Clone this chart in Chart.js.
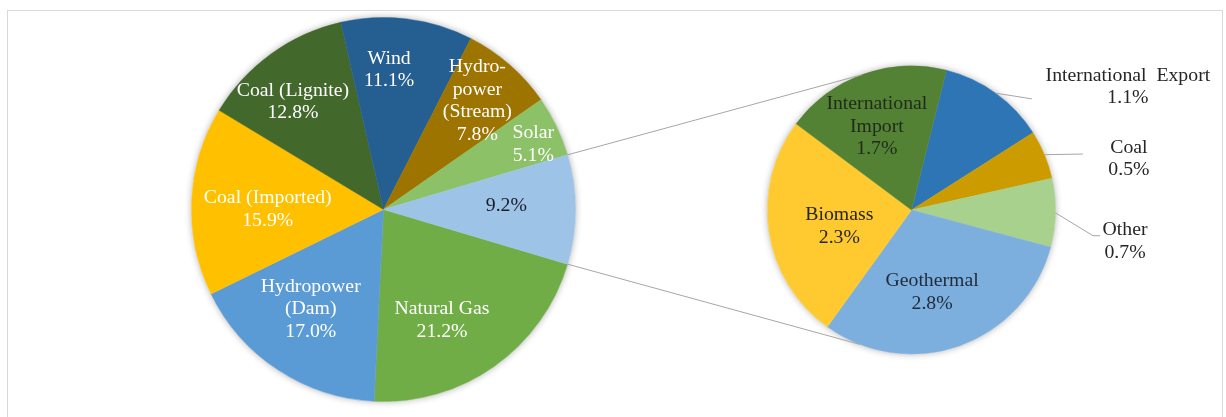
<!DOCTYPE html>
<html><head><meta charset="utf-8">
<script src="https://cdn.jsdelivr.net/npm/chart.js@4.4.1/dist/chart.umd.min.js"></script>
<style>
html,body{margin:0;padding:0;background:#fff;}
#wrap{position:relative;width:1226px;height:417px;overflow:hidden;background:#fff;}
#frame{position:absolute;left:7px;top:10px;width:1214px;height:500px;border:1px solid #d9d9d9;border-bottom:none;}
#wrap canvas{position:absolute;left:0;top:0;}
</style></head><body>
<div id="wrap"><div id="frame"></div>
<canvas id="mainPie" width="1226" height="417"></canvas>
<canvas id="subPie" width="1226" height="417"></canvas>
</div>
<script>
// ---- data ----
const mainCategories = ['Natural Gas','Hydropower (Dam)','Coal (Imported)','Coal (Lignite)','Wind','Hydropower (Stream)','Solar','Other'];
const mainLabelLines = [['Natural Gas'],['Hydropower','(Dam)'],['Coal (Imported)'],['Coal (Lignite)'],['Wind'],['Hydro-','power','(Stream)'],['Solar'],[]];
const mainValues = [21.2,17.0,15.9,12.8,11.1,7.8,5.1,9.2];
const subCategories = ['International Export','Coal','Other','Geothermal','Biomass','International Import'];
const subLabelLines = [['International  Export'],['Coal'],['Other'],['Geothermal'],['Biomass'],['International','Import']];
const subValues = [1.1,0.5,0.7,2.8,2.3,1.7];

// ---- styles ----
const mainColors = ['#70AD47','#5B9BD5','#FFC000','#43682B','#255E91','#9E7400','#8CC168','#9DC3E6'];
const mainTextColors = ['#ffffff','#ffffff','#ffffff','#ffffff','#ffffff','#ffffff','#ffffff','#1c1c2a'];
const subColors = ['#2E75B6','#CC9B00','#A9D18E','#7CAFDD','#FFCA30','#548235'];
const subTextColors = ['#262626','#262626','#262626','#1f2a3a','#262626','#1f2a1a'];
const FONT = '"Liberation Serif", "Times New Roman", serif';
const DEG = Math.PI/180;

// label layout relative to each slice (angle shift in degrees, radius fraction)
const mainLayout = [
  {dA:7.5,r:0.653},{dA:2.8,r:0.642},{dA:-2.5,r:0.603},{dA:-4.3,r:0.731},
  {dA:-4.8,r:0.726},{dA:-0.2,r:0.747},{dA:2.2,r:0.851},{dA:-1.4,r:0.64}
];
const subLayout = [
  {dA:24.6,r:1.729,leader:[[-96,12]]},
  {dA:9.4,r:1.551,leader:[[-46,-5]]},
  {dA:7.3,r:1.499,leader:[[-32,-6],[-25,-6]]},
  {dA:5.6,r:0.59},{dA:-4.1,r:0.514},{dA:-3,r:0.625}
];

function polar(cx, cy, ang, r){ return [cx + Math.cos(ang)*r, cy + Math.sin(ang)*r]; }
function drawLines(ctx, lines, x, y, color){
  ctx.save();
  ctx.fillStyle = color; ctx.font = '19px ' + FONT;
  ctx.textAlign = 'center'; ctx.textBaseline = 'middle';
  const lh = 22.5; const y0 = y - (lines.length-1)*lh/2;
  lines.forEach((t,k)=>{ ctx.save(); ctx.translate(x, y0+k*lh); ctx.scale(1.04,1); ctx.fillText(t,0,0); ctx.restore(); });
  ctx.restore();
}
const shadowPlugin = {
  id:'pieShadow',
  beforeDatasetsDraw(chart){
    const a = chart.getDatasetMeta(0).data[0].getProps(['x','y','outerRadius'], true);
    const ctx = chart.ctx; ctx.save();
    ctx.shadowColor = 'rgba(0,0,0,0.32)'; ctx.shadowBlur = 7;
    ctx.fillStyle = '#ffffff'; ctx.beginPath(); ctx.arc(a.x, a.y, a.outerRadius, 0, 2*Math.PI); ctx.fill();
    ctx.restore();
  }
};
function makeLabelPlugin(lineSets, layout, textColors){
  return {
    id:'sliceLabels',
    afterDatasetsDraw(chart){
      const ctx = chart.ctx; const ds = chart.data.datasets[0];
      chart.getDatasetMeta(0).data.forEach((arc,i)=>{
        const p = arc.getProps(['x','y','startAngle','endAngle','outerRadius'], true);
        const lay = layout[i];
        const mid = (p.startAngle + p.endAngle)/2;
        const [tx,ty] = polar(p.x, p.y, mid + lay.dA*DEG, p.outerRadius*lay.r);
        if (lay.leader){
          ctx.save(); ctx.strokeStyle = '#a6a6a6'; ctx.lineWidth = 1; ctx.beginPath();
          const [sx,sy] = polar(p.x, p.y, mid, p.outerRadius);
          ctx.moveTo(sx, sy);
          lay.leader.forEach(([dx,dy])=>ctx.lineTo(tx+dx, ty+dy));
          ctx.stroke(); ctx.restore();
        }
        const lines = lineSets[i].concat([ds.data[i].toFixed(1) + '%']);
        drawLines(ctx, lines, tx, ty, textColors[i]);
      });
    }
  };
}

const mainSum = mainValues.reduce((a,b)=>a+b,0);
const otherIdx = mainValues.length - 1;

const mainChart = new Chart(document.getElementById('mainPie'), {
  type:'pie',
  data:{labels:mainCategories, datasets:[{data:mainValues, backgroundColor:mainColors, borderColor:mainColors, borderWidth:0.5}]},
  options:{
    responsive:false, animation:false, events:[],
    rotation: 90 + mainValues[otherIdx]/mainSum*180,
    radius:192,
    layout:{padding:{left:0,right:459,top:2,bottom:0}},
    plugins:{legend:{display:false}, tooltip:{enabled:false}}
  },
  plugins:[shadowPlugin, makeLabelPlugin(mainLabelLines, mainLayout, mainTextColors)]
});

const connectorPlugin = {
  id:'connectors',
  afterDraw(chart){
    const m = mainChart.getDatasetMeta(0).data[otherIdx].getProps(['x','y','startAngle','endAngle','outerRadius'], true);
    const s = chart.getDatasetMeta(0).data[0].getProps(['x','y','outerRadius'], true);
    const ctx = chart.ctx; ctx.save(); ctx.strokeStyle = '#a6a6a6'; ctx.lineWidth = 1;
    const [ax,ay] = polar(m.x, m.y, m.startAngle, m.outerRadius);
    const [bx,by] = polar(m.x, m.y, m.endAngle, m.outerRadius);
    const [cx,cy] = polar(s.x, s.y, (340-90)*DEG, s.outerRadius);
    const [dx,dy] = polar(s.x, s.y, (201-90)*DEG, s.outerRadius);
    ctx.beginPath(); ctx.moveTo(ax,ay); ctx.lineTo(cx,cy); ctx.moveTo(bx,by); ctx.lineTo(dx,dy); ctx.stroke();
    ctx.restore();
  }
};

const subChart = new Chart(document.getElementById('subPie'), {
  type:'pie',
  data:{labels:subCategories, datasets:[{data:subValues, backgroundColor:subColors, borderColor:subColors, borderWidth:0.5}]},
  options:{
    responsive:false, animation:false, events:[],
    rotation:14,
    radius:144,
    layout:{padding:{left:597,right:0,top:3,bottom:0}},
    plugins:{legend:{display:false}, tooltip:{enabled:false}}
  },
  plugins:[shadowPlugin, makeLabelPlugin(subLabelLines, subLayout, subTextColors), connectorPlugin]
});
</script>
</body></html>
